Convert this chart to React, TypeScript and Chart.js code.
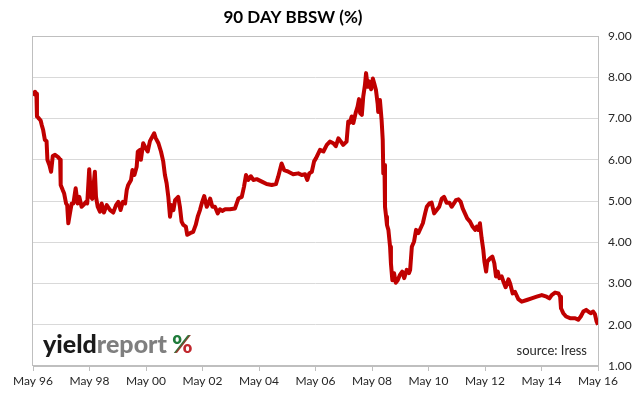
import React, { useEffect, useRef } from "react";
import { Chart, registerables } from "chart.js";

Chart.register(...registerables);

const TITLE = "90 DAY BBSW (%)";
const SOURCE = "source: Iress";
const BRAND_A = "yield";
const BRAND_B = "report";
const BRAND_C = "%";

// decimal years (May 1996 = 1996.37)
const dates = [
  1996.37, 1996.41, 1996.44, 1996.49, 1996.51, 1996.58, 1996.64, 1996.68, 1996.73, 1996.79,
  1996.85, 1996.88, 1996.95, 1997.01, 1997.07, 1997.15, 1997.27, 1997.33, 1997.35, 1997.42,
  1997.47, 1997.54, 1997.58, 1997.62, 1997.68, 1997.74, 1997.8, 1997.88, 1997.95, 1998.01,
  1998.09, 1998.15, 1998.25, 1998.29, 1998.36, 1998.42, 1998.47, 1998.56, 1998.6, 1998.66,
  1998.74, 1998.8, 1998.88, 1998.98, 1999.1, 1999.21, 1999.31, 1999.39, 1999.47, 1999.55,
  1999.63, 1999.69, 1999.74, 1999.84, 1999.89, 1999.96, 2000.04, 2000.08, 2000.16, 2000.19,
  2000.27, 2000.36, 2000.43, 2000.51, 2000.57, 2000.66, 2000.71, 2000.81, 2000.9, 2000.98,
  2001.04, 2001.1, 2001.16, 2001.22, 2001.28, 2001.34, 2001.4, 2001.51, 2001.57, 2001.63,
  2001.69, 2001.78, 2001.83, 2001.93, 2002.04, 2002.13, 2002.2, 2002.28, 2002.36, 2002.43,
  2002.52, 2002.58, 2002.64, 2002.72, 2002.81, 2002.91, 2002.99, 2003.07, 2003.17, 2003.34,
  2003.52, 2003.64, 2003.76, 2003.84, 2003.91, 2003.99, 2004.08, 2004.17, 2004.29, 2004.47,
  2004.64, 2004.82, 2004.97, 2005.05, 2005.17, 2005.26, 2005.41, 2005.58, 2005.76, 2005.88,
  2006.0, 2006.08, 2006.15, 2006.24, 2006.32, 2006.39, 2006.53, 2006.65, 2006.77, 2006.88,
  2007.0, 2007.09, 2007.18, 2007.27, 2007.35, 2007.47, 2007.53, 2007.59, 2007.65, 2007.71,
  2007.79, 2007.86, 2007.91, 2007.95, 2008.01, 2008.06, 2008.12, 2008.16, 2008.22, 2008.27,
  2008.34, 2008.4, 2008.45, 2008.51, 2008.57, 2008.59, 2008.65, 2008.71, 2008.75, 2008.77,
  2008.81, 2008.83, 2008.87, 2008.9, 2008.95, 2009.01, 2009.04, 2009.09, 2009.15, 2009.21,
  2009.28, 2009.36, 2009.44, 2009.51, 2009.6, 2009.68, 2009.72, 2009.78, 2009.86, 2009.93,
  2010.01, 2010.09, 2010.17, 2010.25, 2010.31, 2010.4, 2010.48, 2010.57, 2010.66, 2010.75,
  2010.84, 2010.92, 2011.01, 2011.11, 2011.19, 2011.27, 2011.34, 2011.43, 2011.51, 2011.58,
  2011.66, 2011.74, 2011.84, 2011.93, 2012.02, 2012.08, 2012.13, 2012.19, 2012.25, 2012.31,
  2012.35, 2012.41, 2012.45, 2012.55, 2012.63, 2012.7, 2012.76, 2012.82, 2012.88, 2012.96,
  2013.02, 2013.1, 2013.2, 2013.26, 2013.35, 2013.43, 2013.55, 2013.67, 2013.85, 2014.02,
  2014.2, 2014.38, 2014.55, 2014.65, 2014.73, 2014.85, 2014.97, 2015.03, 2015.06, 2015.14,
  2015.24, 2015.38, 2015.56, 2015.67, 2015.76, 2015.85, 2015.95, 2016.03, 2016.11, 2016.2,
  2016.26, 2016.32, 2016.37,
];

const bbsw = [
  7.55, 7.6, 7.65, 7.6, 7.05, 7.0, 6.95, 6.84, 6.72, 6.48,
  6.45, 6.0, 5.87, 5.71, 6.09, 6.12, 6.06, 6.0, 5.39, 5.27,
  5.19, 4.94, 4.9, 4.46, 4.71, 4.94, 4.94, 5.31, 4.94, 5.1,
  4.86, 4.9, 4.98, 4.94, 5.77, 5.1, 5.05, 5.71, 5.1, 4.86,
  4.74, 4.94, 4.72, 4.9, 4.78, 4.72, 4.9, 4.98, 4.78, 4.98,
  4.94, 5.27, 5.39, 5.51, 5.75, 5.63, 5.83, 6.2, 6.24, 6.0,
  6.4, 6.28, 6.2, 6.45, 6.53, 6.64, 6.53, 6.4, 6.2, 5.96,
  5.63, 5.43, 5.1, 4.62, 4.9, 4.78, 5.02, 5.1, 4.86, 4.5,
  4.42, 4.38, 4.18, 4.22, 4.25, 4.42, 4.62, 4.78, 4.98, 5.12,
  4.86, 4.94, 5.06, 4.86, 4.86, 4.7, 4.8, 4.76, 4.8, 4.8,
  4.82, 5.06, 5.1, 5.35, 5.63, 5.51, 5.6, 5.51, 5.53, 5.47,
  5.41, 5.39, 5.41, 5.59, 5.91, 5.75, 5.71, 5.65, 5.67, 5.63,
  5.65, 5.51, 5.67, 5.71, 5.96, 6.04, 6.24, 6.2, 6.36, 6.44,
  6.4, 6.33, 6.52, 6.44, 6.36, 6.44, 6.93, 6.9, 7.05, 6.89,
  7.13, 7.29, 7.47, 7.13, 7.09, 7.53, 7.81, 8.1, 7.77, 7.9,
  7.71, 7.97, 7.85, 7.69, 7.36, 7.16, 7.45, 6.96, 6.48, 5.67,
  5.87, 4.86, 4.62, 4.42, 4.3, 3.89, 3.49, 3.08, 3.25, 3.02,
  3.08, 3.21, 3.29, 3.13, 3.33, 3.25, 3.33, 3.89, 4.02, 4.3,
  4.22, 4.34, 4.46, 4.7, 4.86, 4.94, 4.96, 4.7, 4.78, 4.86,
  5.06, 5.1, 4.96, 4.96, 4.86, 4.94, 5.02, 5.04, 4.98, 4.82,
  4.7, 4.58, 4.5, 4.38, 4.3, 4.38, 4.3, 4.46, 4.1, 3.81,
  3.53, 3.29, 3.53, 3.61, 3.65, 3.49, 3.17, 3.29, 3.13, 3.17,
  3.05, 2.91, 3.1, 3.0, 2.76, 2.8, 2.62, 2.56, 2.6, 2.64,
  2.68, 2.72, 2.68, 2.64, 2.72, 2.78, 2.76, 2.68, 2.4, 2.28,
  2.2, 2.16, 2.16, 2.12, 2.2, 2.32, 2.36, 2.32, 2.28, 2.32,
  2.26, 2.08, 2.0,
];

const xTickYears = [1996.37, 1998.37, 2000.37, 2002.37, 2004.37, 2006.37, 2008.37, 2010.37, 2012.37, 2014.37, 2016.37];
const xTickLabels = ["May 96", "May 98", "May 00", "May 02", "May 04", "May 06", "May 08", "May 10", "May 12", "May 14", "May 16"];
const yTickValues = [1, 2, 3, 4, 5, 6, 7, 8, 9];

const FONT = "Lato, 'Open Sans', sans-serif";

const decorPlugin = {
  id: "decor",
  beforeDatasetsDraw(chart: any) {
    const { ctx, chartArea } = chart;
    const { left, right, top, bottom } = chartArea;
    ctx.save();
    // frame
    ctx.strokeStyle = "#bfbfbf";
    ctx.lineWidth = 1;
    ctx.strokeRect(Math.round(left) - 0.5, Math.round(top) + 0.5, Math.round(right - left) + 1, Math.round(bottom - top) - 1);
    // brand
    ctx.textBaseline = "alphabetic";
    ctx.textAlign = "left";
    ctx.font = `900 25px ${FONT}`;
    const bx = left + 10;
    const by = bottom - 13;
    ctx.fillStyle = "#1a1a1a";
    ctx.fillText(BRAND_A, bx, by);
    const wA = ctx.measureText(BRAND_A).width;
    ctx.fillStyle = "#7f7f7f";
    ctx.fillText(BRAND_B, bx + wA, by);
    const wB = ctx.measureText(BRAND_B).width;
    const px = bx + wA + wB + 5;
    const wC = ctx.measureText(BRAND_C).width;
    const grad = ctx.createLinearGradient(px, by - 17, px + wC, by);
    grad.addColorStop(0, "#1e7b3a");
    grad.addColorStop(0.45, "#1e7b3a");
    grad.addColorStop(0.55, "#c0272d");
    grad.addColorStop(1, "#c0272d");
    ctx.fillStyle = grad;
    ctx.fillText(BRAND_C, px, by);
    // source
    ctx.font = `13px ${FONT}`;
    ctx.fillStyle = "#262626";
    ctx.textAlign = "right";
    ctx.textBaseline = "middle";
    ctx.fillText(SOURCE, right - 11, bottom - 15);
    ctx.restore();
  },
  afterDraw(chart: any) {
    const { ctx } = chart;
    ctx.save();
    ctx.font = `bold 17px ${FONT}`;
    ctx.fillStyle = "#000000";
    ctx.textAlign = "center";
    ctx.textBaseline = "middle";
    ctx.fillText(TITLE, 293, 18);
    ctx.restore();
  },
};

export default function App() {
  const ref = useRef<HTMLCanvasElement>(null);
  useEffect(() => {
    if (!ref.current) return;
    const points = dates.map((d, i) => ({ x: d, y: bbsw[i] }));
    const chart = new Chart(ref.current, {
      type: "line",
      data: {
        datasets: [
          {
            data: points,
            borderColor: "#c00000",
            borderWidth: 4,
            pointRadius: 0,
            tension: 0,
            fill: false,
            borderJoinStyle: "round",
          },
        ],
      },
      options: {
        animation: false,
        responsive: false,
        maintainAspectRatio: false,
        layout: { padding: { left: 33, top: 36, right: 0, bottom: 0 } },
        plugins: {
          legend: { display: false },
          tooltip: { enabled: false },
          title: { display: false },
        },
        scales: {
          x: {
            type: "linear",
            min: xTickYears[0],
            max: xTickYears[xTickYears.length - 1],
            afterBuildTicks: (s: any) => {
              s.ticks = xTickYears.map((v) => ({ value: v }));
            },
            afterFit: (s: any) => {
              s.height = 32;
            },
            ticks: {
              autoSkip: false,
              maxRotation: 0,
              padding: 3,
              color: "#262626",
              font: { family: FONT, size: 12 },
              callback: (_v: any, i: number) => xTickLabels[i],
            },
            grid: { drawOnChartArea: false, drawTicks: true, tickLength: 5, color: "#bfbfbf" },
            border: { display: true, color: "#bfbfbf" },
          },
          y: {
            type: "linear",
            position: "right",
            min: yTickValues[0],
            max: yTickValues[yTickValues.length - 1],
            afterBuildTicks: (s: any) => {
              s.ticks = yTickValues.map((v) => ({ value: v }));
            },
            afterFit: (s: any) => {
              s.width = 40;
            },
            ticks: {
              padding: 10,
              color: "#262626",
              font: { family: FONT, size: 12 },
              callback: (v: any) => Number(v).toFixed(2),
            },
            grid: { color: "#d9d9d9", drawTicks: false },
            border: { display: true, color: "#bfbfbf" },
          },
        },
      },
      plugins: [decorPlugin],
    });
    return () => chart.destroy();
  }, []);
  return (
    <div style={{ position: "absolute", left: 0, top: 0, width: 638, height: 398, background: "#ffffff" }}>
      <canvas ref={ref} width={638} height={398} style={{ display: "block", width: 638, height: 398 }} />
    </div>
  );
}
